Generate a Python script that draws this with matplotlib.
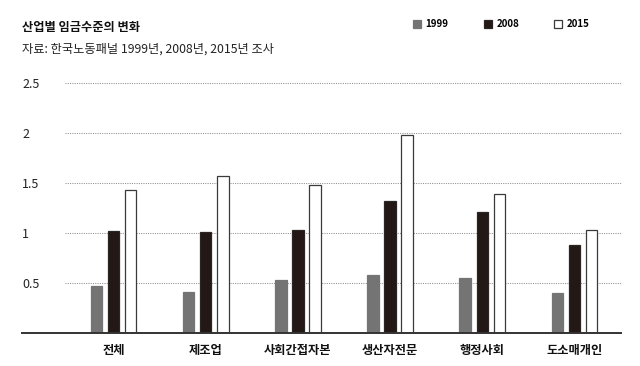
"""산업별 임금수준의 변화 - grouped bar chart (1999 / 2008 / 2015)."""

import matplotlib
matplotlib.use("Agg")
import matplotlib.pyplot as plt
import numpy as np

plt.rcParams["font.family"] = ["Noto Sans CJK KR", "DejaVu Sans"]

INDUSTRIES = ["전체", "제조업", "사회간접자본", "생산자전문", "행정사회", "도소매개인"]
YEARS = ["1999", "2008", "2015"]

WAGE_1999 = [0.47, 0.41, 0.525, 0.575, 0.55, 0.395]
WAGE_2008 = [1.02, 1.01, 1.03, 1.32, 1.21, 0.88]
WAGE_2015 = [1.43, 1.57, 1.48, 1.98, 1.39, 1.03]

Y_TICKS = [0.5, 1, 1.5, 2, 2.5]
Y_TICK_LABELS = ["0.5", "1", "1.5", "2", "2.5"]

TITLE = "산업별 임금수준의 변화"
SUBTITLE = "자료: 한국노동패널 1999년, 2008년, 2015년 조사"

W, H = 640, 366
STYLES = [
    dict(color="#747474", edgecolor="#747474"),
    dict(color="#231815", edgecolor="#2a2422"),
    dict(color="white", edgecolor="#3a3a3a"),
]


def main() -> None:
    fig = plt.figure(figsize=(W / 100, H / 100), dpi=100)
    left, right, bottom, top = 22, 621, 332.7, 83.3
    ax = fig.add_axes([left / W, 1 - bottom / H, (right - left) / W, (bottom - top) / H])

    x = np.arange(len(INDUSTRIES))
    step, width = 0.185, 0.125
    series = [WAGE_1999, WAGE_2008, WAGE_2015]
    handles = []
    for k, (vals, style) in enumerate(zip(series, STYLES)):
        bars = ax.bar(x + (k - 1) * step, vals, width=width, linewidth=0.9,
                      zorder=3, label=YEARS[k], **style)
        handles.append(bars)

    ax.set_xlim(-0.992, 5.504)
    ax.set_ylim(0, 2.5)

    # dotted guides start right of the tick labels, baseline runs full width
    grid_start = (65 - left) / (right - left)
    for y in Y_TICKS:
        ax.axhline(y, xmin=grid_start, xmax=1, color="#8f8f8f",
                   linestyle=(0, (1, 1.2)), linewidth=0.75, zorder=1, clip_on=False)
    ax.axhline(0, color="#333333", linewidth=1.4, zorder=4, clip_on=False)

    for side in ["top", "right", "left", "bottom"]:
        ax.spines[side].set_visible(False)

    ax.set_yticks(Y_TICKS)
    ax.set_yticklabels(Y_TICK_LABELS, fontsize=9, color="#222222")
    ax.tick_params(axis="y", length=0, pad=0)
    for lab in ax.get_yticklabels():
        lab.set_horizontalalignment("left")

    ax.set_xticks(x)
    ax.set_xticklabels(INDUSTRIES, fontsize=8.8, fontweight="bold", color="#111111")
    ax.tick_params(axis="x", length=0, pad=8)

    fig.text(22 / W, 1 - 27 / H, TITLE, fontsize=8.8, fontweight="bold",
             va="center", ha="left", color="#111111")
    fig.text(22 / W, 1 - 49 / H, SUBTITLE, fontsize=8.8,
             va="center", ha="left", color="#222222")

    fig.legend(handles=handles, labels=YEARS, ncol=3, frameon=False,
               loc="upper left", bbox_to_anchor=(413 / W, 1 - 19 / H),
               borderpad=0, borderaxespad=0, handlelength=0.85, handleheight=0.85,
               handletextpad=0.45, columnspacing=3.6,
               prop={"size": 7, "weight": "bold"})

    fig.savefig("out.png", dpi=100)
    plt.close(fig)


if __name__ == "__main__":
    main()
